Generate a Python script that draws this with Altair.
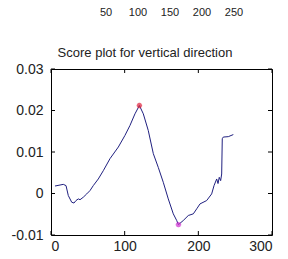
import altair as alt
import pandas as pd

# main curve
xs = [5.4, 16.7, 20.4, 23.5, 28.1, 31.2, 33.9, 37.1, 39.4, 43.8, 48.5, 52.9, 57.4,
      64.2, 71.0, 80.1, 91.4, 100.4, 107.2, 114.0, 120.0, 125.3, 132.0, 138.9,
      145.6, 152.4, 159.2, 166.0, 170.6, 173.0, 179.6, 186.4, 193.2, 197.8, 202.3,
      211.3, 218.1, 221.3, 224.9, 226.7, 228.4, 230.3, 231.7, 232.5, 233.9, 240.7,
      247.5]
ys = [0.0018, 0.0022, 0.0019, -0.0005, -0.0021, -0.0023, -0.0017, -0.0013, -0.0015,
      -0.0009, -0.0001, 0.0007, 0.0019, 0.0035, 0.0055, 0.0084, 0.0112, 0.0140,
      0.0164, 0.0192, 0.0212, 0.0192, 0.0152, 0.0096, 0.0063, 0.0027, -0.0013,
      -0.0049, -0.0065, -0.0075, -0.0065, -0.0053, -0.0049, -0.0037, -0.0025,
      -0.0017, -0.0001, 0.0019, 0.0035, 0.0024, 0.0039, 0.0031, 0.0047, 0.0132,
      0.0136, 0.0137, 0.0142]

max_pt = (120.0, 0.0212)
min_pt = (173.0, -0.0075)

x_ticks = [0, 100, 200, 300]
y_ticks = [-0.01, 0, 0.01, 0.02, 0.03]
top_labels = [50, 100, 150, 200, 250]
title_text = "Score plot for vertical direction"

W, H = 221, 166
FONT = "Liberation Sans"
TXT = "#222222"

df = pd.DataFrame({"x": xs, "y": ys})
xsc = alt.Scale(domain=[0, 300], nice=False, zero=False)
ysc = alt.Scale(domain=[-0.01, 0.03], nice=False, zero=False)

yaxis = alt.Axis(values=y_ticks, title=None, ticks=False, domain=False,
                 grid=False, labelFont=FONT, labelFontSize=14,
                 labelColor=TXT, labelPadding=8, labelExpr="'' + datum.value")

line = alt.Chart(df).mark_line(color="#202080", strokeWidth=1).encode(
    x=alt.X("x:Q", scale=xsc,
            axis=alt.Axis(values=x_ticks, title=None, ticks=False, domain=False,
                          grid=False, labelFont=FONT, labelFontSize=14,
                          labelColor=TXT, labelPadding=4)),
    y=alt.Y("y:Q", scale=ysc, axis=yaxis),
)

star = "M-1,0L1,0M0,-1L0,1M-0.7,-0.7L0.7,0.7M-0.7,0.7L0.7,-0.7"
mx = alt.Chart(pd.DataFrame({"x": [max_pt[0]], "y": [max_pt[1]]})).mark_point(
    shape=star, size=30, color="#e0203a", strokeWidth=1.6).encode(
    x=alt.X("x:Q", scale=xsc, axis=None), y=alt.Y("y:Q", scale=ysc, axis=yaxis))
mn = alt.Chart(pd.DataFrame({"x": [min_pt[0]], "y": [min_pt[1]]})).mark_point(
    shape=star, size=30, color="#d030d0", strokeWidth=1.6).encode(
    x=alt.X("x:Q", scale=xsc, axis=None), y=alt.Y("y:Q", scale=ysc, axis=yaxis))

xt = pd.DataFrame({"v": x_ticks})
yt = pd.DataFrame({"v": y_ticks})
tick_top = alt.Chart(xt).mark_rule(color="black", strokeWidth=1).encode(
    x=alt.X("v:Q", scale=xsc, axis=None), y=alt.value(0), y2=alt.value(4))
tick_bot = alt.Chart(xt).mark_rule(color="black", strokeWidth=1).encode(
    x=alt.X("v:Q", scale=xsc, axis=None), y=alt.value(H), y2=alt.value(H - 4))
tick_left = alt.Chart(yt).mark_rule(color="black", strokeWidth=1).encode(
    y=alt.Y("v:Q", scale=ysc, axis=yaxis), x=alt.value(0), x2=alt.value(4))
tick_right = alt.Chart(yt).mark_rule(color="black", strokeWidth=1).encode(
    y=alt.Y("v:Q", scale=ysc, axis=yaxis), x=alt.value(W), x2=alt.value(W - 4))

title = alt.Chart(pd.DataFrame({"t": [title_text]})).mark_text(
    font=FONT, fontSize=13, color=TXT, align="center", baseline="alphabetic").encode(
    text="t:N", x=alt.value(94), y=alt.value(-12.5))

top = alt.Chart(pd.DataFrame({"v": top_labels})).mark_text(
    font=FONT, fontSize=11, color=TXT, align="center", baseline="alphabetic").encode(
    text="v:Q",
    x=alt.X("v:Q", scale=alt.Scale(domain=[0, 300], range=[23, 215], nice=False), axis=None),
    y=alt.value(-53))

chart = alt.layer(
    line, tick_top, tick_bot, tick_left, tick_right, mx, mn, title, top
).resolve_scale(x="independent").properties(
    width=W, height=H,
    autosize=alt.AutoSizeParams(type="none"),
    padding={"left": 43, "top": 61, "right": 8, "bottom": 24},
    background="white",
).configure_view(stroke="black", strokeWidth=1)

chart.save("out.html", embed_options={"renderer": "svg", "actions": False})
